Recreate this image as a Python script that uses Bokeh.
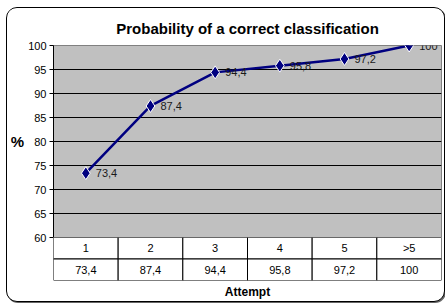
from bokeh.plotting import figure
from bokeh.layouts import column
from bokeh.models import FactorRange, Range1d, FixedTicker, ColumnDataSource
from bokeh.embed import file_html
from bokeh.resources import INLINE
from bokeh.core.properties import value

# ---- data ----
categories = ["1", "2", "3", "4", "5", ">5"]
probability = [73.4, 87.4, 94.4, 95.8, 97.2, 100]
y_ticks = [60, 65, 70, 75, 80, 85, 90, 95, 100]
title_text = "Probability of a correct classification"
x_title = "Attempt"
y_title = "%"

def fmt(v):
    return f"{v:g}".replace(".", ",")

value_labels = [fmt(v) for v in probability]

FONT = "Liberation Sans"
W = 437
OVERLAP = 8

# ---------------- chart ----------------
p = figure(
    width=W, height=229 + OVERLAP,
    x_range=FactorRange(*categories, range_padding=0),
    y_range=Range1d(60, 100),
    output_backend="svg", toolbar_location=None,
    min_border_left=43, min_border_right=3, min_border_top=37,
    min_border_bottom=OVERLAP,
)
p.title.text = title_text
p.title.align = "center"
p.title.text_font = FONT
p.title.text_font_size = "15px"
p.title.text_font_style = "bold"
p.title.text_color = "#000000"
p.title.standoff = 17

p.background_fill_color = "#c0c0c0"
p.border_fill_color = "#ffffff"
p.outline_line_color = "#808080"

p.xgrid.visible = False
p.ygrid.ticker = FixedTicker(ticks=y_ticks)
p.ygrid.grid_line_color = "#000000"

p.xaxis.visible = False
p.yaxis.ticker = FixedTicker(ticks=y_ticks)
p.yaxis.axis_line_color = "#000000"
p.yaxis.major_tick_line_color = "#000000"
p.yaxis.major_tick_out = 4
p.yaxis.major_tick_in = 0
p.yaxis.minor_tick_line_color = None
p.yaxis.major_label_text_font = FONT
p.yaxis.major_label_text_font_size = "11px"
p.yaxis.major_label_text_color = "#000000"
p.yaxis.major_label_standoff = 3
p.yaxis.axis_label = y_title
p.yaxis.axis_label_orientation = "horizontal"
p.yaxis.axis_label_text_font = FONT
p.yaxis.axis_label_text_font_size = "15px"
p.yaxis.axis_label_text_font_style = "bold"
p.yaxis.axis_label_text_color = "#000000"
p.yaxis.axis_label_standoff = 1

src = ColumnDataSource(dict(x=categories, y=probability, lab=value_labels))
p.line(x="x", y="y", source=src, line_color="#000080", line_width=2.5)
p.scatter(x="x", y="y", source=src, marker="diamond", size=13,
          fill_color="#000080", line_color="#ffffff", line_width=1)
p.text(x="x", y="y", text="lab", source=src, x_offset=10, text_align="left",
       text_baseline="middle", text_font=value(FONT), text_font_size="11px",
       text_color="#1a1a1a")

# ---------------- data table ----------------
t = figure(
    width=W, height=64,
    x_range=FactorRange(*categories, range_padding=0),
    y_range=Range1d(0, 2),
    output_backend="svg", toolbar_location=None,
    min_border_left=43, min_border_right=3, min_border_top=0, min_border_bottom=0,
)
t.margin = (-OVERLAP, 0, 0, 0)
t.background_fill_color = "#ffffff"
t.border_fill_alpha = 0
t.outline_line_color = None
t.grid.visible = False
t.yaxis.visible = False
t.xaxis.axis_line_color = None
t.xaxis.major_tick_line_color = None
t.xaxis.major_tick_out = 0
t.xaxis.major_tick_in = 0
t.xaxis.minor_tick_line_color = None
t.xaxis.major_label_text_font_size = "1px"
t.xaxis.major_label_text_alpha = 0
t.xaxis.major_label_standoff = 0
t.xaxis.axis_label = x_title
t.xaxis.axis_label_text_font = FONT
t.xaxis.axis_label_text_font_size = "12px"
t.xaxis.axis_label_text_font_style = "bold"
t.xaxis.axis_label_text_color = "#000000"
t.xaxis.axis_label_standoff = 4

tbl = ColumnDataSource(dict(x=categories, labels=categories, vals=value_labels))
t.rect(x="x", y=1.5, width=1, height=1, source=tbl,
       fill_color="#ffffff", line_color="#000000", line_width=1)
t.rect(x="x", y=0.5, width=1, height=1, source=tbl,
       fill_color="#ffffff", line_color="#000000", line_width=1)
t.text(x="x", y=1.5, text="labels", source=tbl, text_align="center",
       text_baseline="middle", text_font=value(FONT), text_font_size="11px",
       text_color="#000000")
t.text(x="x", y=0.5, text="vals", source=tbl, text_align="center",
       text_baseline="middle", text_font=value(FONT), text_font_size="11px",
       text_color="#000000")

layout = column(p, t, spacing=0)
layout.styles = {"border": "1px solid #000", "border-radius": "11px",
                 "box-shadow": "1px 1px 0 #666", "margin-left": "6px",
                 "margin-top": "7px", "overflow": "hidden", "background": "#fff"}

open("out.html", "w").write(file_html(layout, INLINE))
